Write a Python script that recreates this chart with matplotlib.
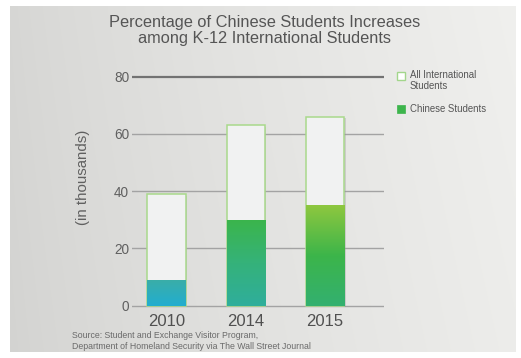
import numpy as np
import matplotlib
matplotlib.use('Agg')
import matplotlib.pyplot as plt
from matplotlib.colors import LinearSegmentedColormap
from matplotlib.patches import Rectangle

plt.rcParams['font.family'] = ['Liberation Sans', 'DejaVu Sans']

# data (thousands of students)
years = ['2010', '2014', '2015']
all_intl = [39, 63, 66]
chinese = [9, 30, 35]
yticks = [0, 20, 40, 60, 80]

# gradient stops for each chinese-students bar, bottom -> top
bar_stops = [
    ['#22aed0', '#3aada8'],
    ['#2fae9c', '#35b27a', '#3bb54c'],
    ['#33b070', '#3cb54a', '#8ec73f'],
]

W, H = 521, 358
fig = plt.figure(figsize=(W / 100, H / 100), dpi=100)
fig.patch.set_facecolor('white')

# background panel with a soft left-to-right gradient
bg = fig.add_axes([0, 0, 1, 1], zorder=0)
bg.set_xlim(0, W)
bg.set_ylim(H, 0)
bg.axis('off')
gx = np.linspace(0, 1, 256)
gy = np.linspace(0, 1, 64)[:, None]
grad = 0.84 + 0.10 * gx[None, :] ** 0.8 - 0.012 * gy
grad = np.clip(grad, 0, 1)
rgb = np.dstack([grad, grad, grad - 0.008])
bg.imshow(rgb, extent=[10, 516, 352, 6], aspect='auto', interpolation='bilinear')

# main axes
px_per = 229.1 / 80
ax_bot = 305.6 + px_per
ax_top = 76.5 - 2 * px_per
ax = fig.add_axes([132 / W, (H - ax_bot) / H, (384 - 132) / W, (ax_bot - ax_top) / H], zorder=1)
ax.patch.set_alpha(0)

x = np.arange(len(years))
w = 0.48

for t in yticks:
    if t == 80:
        ax.axhline(t, color='#727272', lw=1.6, zorder=1)
    else:
        ax.axhline(t, color='#a3a3a3', lw=1.0, zorder=1)

for i in range(len(years)):
    # soft shadow
    ax.add_patch(Rectangle((x[i] - w / 2 + 0.02, -0.6), w, all_intl[i], facecolor='#9a9a9a',
                           alpha=0.35, lw=0, zorder=2))
    # total bar
    ax.add_patch(Rectangle((x[i] - w / 2, 0), w, all_intl[i], facecolor='#f1f2f2',
                           edgecolor='#a9d98c', lw=1.1, zorder=3))
    # chinese students with vertical gradient
    cmap = LinearSegmentedColormap.from_list('b%d' % i, bar_stops[i])
    img = np.linspace(0, 1, 128)[:, None]
    ax.imshow(img, cmap=cmap, origin='lower', aspect='auto', zorder=4,
              extent=[x[i] - w / 2, x[i] + w / 2, 0, chinese[i]], interpolation='bilinear')

ax.set_xlim(-0.435, 2.744)
ax.set_ylim(-1, 82)
ax.set_yticks(yticks)
ax.set_yticklabels([str(t) for t in yticks], fontsize=9.8, color='#606060')
ax.set_xticks(x)
ax.set_xticklabels(years, fontsize=12, color='#505050')
ax.tick_params(length=0, pad=2)
ax.tick_params(axis='x', pad=4)
for s in ax.spines.values():
    s.set_visible(False)

fig.text(83 / W, 1 - 177.5 / H, '(in thousands)', rotation=90, ha='center', va='center',
         fontsize=10.8, color='#606060')

fig.text(265 / W, 1 - 30.5 / H, 'Percentage of Chinese Students Increases\namong K-12 International Students',
         ha='center', va='center', fontsize=11.8, color='#555555', linespacing=1.1)

fig.text(72 / W, 1 - 341 / H, 'Source: Student and Exchange Visitor Program,\n'
         'Department of Homeland Security via The Wall Street Journal',
         ha='left', va='center', fontsize=6.3, color='#6a6a6a', linespacing=1.3)

# legend
bg.add_patch(Rectangle((397, 72), 8, 8, facecolor='white', edgecolor='#a3d68c', lw=1.0, zorder=3))
bg.add_patch(Rectangle((397, 104.5), 8, 8, facecolor='#3db54c', edgecolor='#3db54c', lw=0.5, zorder=3))
bg.text(410, 80.5, 'All International\nStudents', ha='left', va='center', fontsize=6.9,
        color='#555555', linespacing=1.2)
bg.text(410, 108.5, 'Chinese Students', ha='left', va='center', fontsize=6.9, color='#555555')

fig.savefig('out.png', dpi=100, facecolor='white')
